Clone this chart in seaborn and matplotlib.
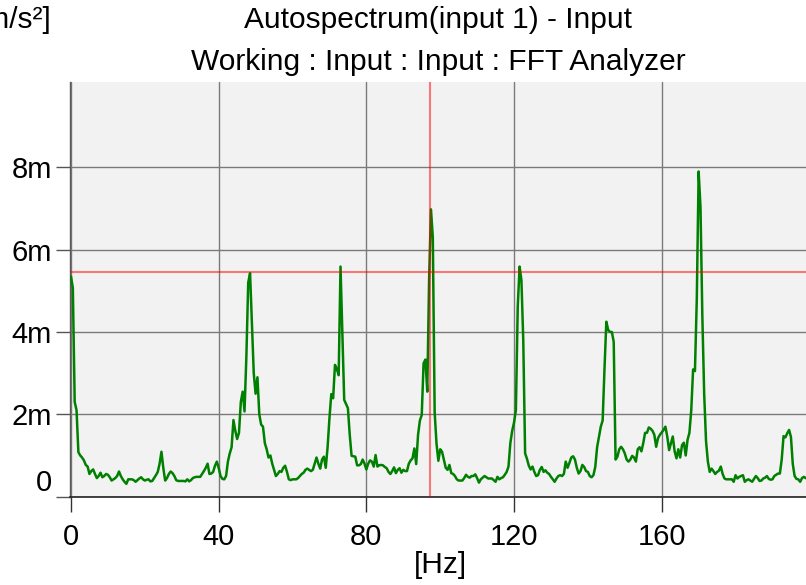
import matplotlib
matplotlib.use("Agg")
import matplotlib.pyplot as plt
import matplotlib.transforms as mtransforms
import numpy as np
import pandas as pd
import seaborn as sns

# Autospectrum of input 1, 0.5 Hz line spacing, values in milli (m/s²)
freq_step_hz = 0.5
level_0_40 = [
    5.35, 5.07, 2.3, 2.1, 1.08, 1.0, 0.95, 0.88, 0.77, 0.73, 0.55, 0.62, 0.66, 0.55, 0.45, 0.5, 0.58, 0.47, 0.5, 0.55,
    0.53, 0.47, 0.39, 0.42, 0.45, 0.5, 0.61, 0.5, 0.42, 0.36, 0.31, 0.42, 0.42, 0.42, 0.4, 0.36, 0.4, 0.44, 0.47, 0.42,
    0.39, 0.41, 0.42, 0.37, 0.38, 0.45, 0.52, 0.6, 0.8, 1.09, 0.7, 0.39, 0.45, 0.55, 0.61, 0.57, 0.5, 0.4, 0.38, 0.38,
    0.38, 0.38, 0.37, 0.42, 0.37, 0.4, 0.45, 0.47, 0.48, 0.48, 0.48, 0.55, 0.62, 0.7, 0.8, 0.55, 0.56, 0.6, 0.75, 0.85,
]
level_40_80 = [
    0.7, 0.5, 0.43, 0.42, 0.5, 0.85, 1.05, 1.2, 1.86, 1.6, 1.4, 1.55, 2.3, 2.55, 2.07, 3.4, 5.2, 5.43, 4.2, 3.0,
    2.5, 2.9, 2.0, 1.75, 1.7, 1.3, 1.15, 0.95, 1.0, 0.8, 0.65, 0.5, 0.55, 0.62, 0.6, 0.7, 0.75, 0.6, 0.42, 0.4,
    0.42, 0.42, 0.42, 0.45, 0.5, 0.55, 0.58, 0.65, 0.68, 0.65, 0.62, 0.65, 0.8, 0.95, 0.8, 0.68, 0.9, 0.97, 0.7, 1.2,
    1.9, 2.49, 2.39, 3.2, 3.1, 2.95, 5.59, 4.0, 2.35, 2.25, 2.15, 1.5, 0.99, 0.98, 0.97, 0.76, 0.76, 0.79, 0.9, 0.8,
]
level_80_120 = [
    0.66, 0.8, 0.88, 0.85, 0.73, 1.01, 0.73, 0.76, 0.77, 0.76, 0.72, 0.69, 0.6, 0.55, 0.62, 0.71, 0.57, 0.65, 0.69, 0.58,
    0.65, 0.62, 0.62, 0.8, 0.88, 0.93, 1.17, 0.79, 1.5, 1.85, 1.98, 3.24, 3.33, 2.55, 5.3, 6.98, 6.3, 2.05, 1.29, 0.87,
    1.15, 1.09, 0.9, 0.7, 0.65, 0.77, 0.57, 0.55, 0.5, 0.42, 0.39, 0.39, 0.39, 0.45, 0.53, 0.48, 0.46, 0.5, 0.5, 0.54,
    0.45, 0.34, 0.42, 0.46, 0.5, 0.47, 0.44, 0.44, 0.44, 0.4, 0.36, 0.48, 0.42, 0.45, 0.47, 0.53, 0.6, 0.73, 1.3, 1.6,
]
level_120_160 = [
    1.8, 2.1, 4.6, 5.59, 5.26, 3.8, 1.05, 0.92, 0.75, 0.66, 0.73, 0.6, 0.5, 0.52, 0.65, 0.72, 0.6, 0.64, 0.58, 0.55,
    0.48, 0.42, 0.36, 0.44, 0.5, 0.52, 0.5, 0.55, 0.85, 0.7, 0.82, 0.95, 0.98, 0.9, 0.7, 0.56, 0.62, 0.77, 0.72, 0.62,
    0.6, 0.5, 0.47, 0.52, 0.72, 1.2, 1.45, 1.7, 1.85, 3.1, 4.25, 4.05, 4.0, 4.0, 3.76, 0.9, 0.97, 1.15, 1.21, 1.15,
    1.05, 0.9, 0.85, 0.9, 0.99, 0.95, 0.85, 1.15, 1.2, 1.1, 1.3, 1.55, 1.55, 1.68, 1.65, 1.6, 1.5, 1.21, 1.42, 1.5,
]
level_160_200 = [
    1.56, 1.62, 1.7, 1.46, 1.13, 1.3, 1.46, 1.1, 0.93, 1.15, 0.95, 1.25, 1.31, 1.0, 1.38, 1.55, 2.1, 3.09, 3.05, 4.8,
    7.9, 7.04, 4.4, 2.5, 1.35, 0.85, 0.6, 0.68, 0.62, 0.55, 0.6, 0.63, 0.73, 0.55, 0.44, 0.42, 0.42, 0.42, 0.42, 0.36,
    0.52, 0.44, 0.48, 0.5, 0.52, 0.36, 0.4, 0.42, 0.39, 0.36, 0.43, 0.5, 0.45, 0.38, 0.39, 0.44, 0.46, 0.5, 0.43, 0.41,
    0.42, 0.5, 0.53, 0.56, 0.56, 0.9, 1.47, 1.44, 1.54, 1.62, 1.45, 0.79, 0.5, 0.43, 0.42, 0.36, 0.45, 0.48, 0.45, 0.44,
]

# Cursor position (frequency in Hz, level in milli m/s²)
cursor_freq = 97.2
cursor_level = 5.465

x_ticks = [0, 40, 80, 120, 160]
y_ticks = [0, 2, 4, 6, 8]
y_tick_labels = ["0", "2m", "4m", "6m", "8m"]

title_main = "Autospectrum(input 1) - Input"
title_sub = "Working : Input : Input : FFT Analyzer"
x_label = "[Hz]"
y_label = "[m/s²]"

levels = level_0_40 + level_40_80 + level_80_120 + level_120_160 + level_160_200
freqs = np.arange(len(levels)) * freq_step_hz
df = pd.DataFrame({"freq": freqs, "level": levels})

sns.set_style("white")
plt.rcParams["font.family"] = ["Liberation Sans", "DejaVu Sans"]
plt.rcParams["text.color"] = "black"

W, H = 806, 585
TXT = 21.5
TICK = 21
fig = plt.figure(figsize=(W / 100, H / 100), dpi=100)
ax = fig.add_axes([70 / W, 1 - 496.6 / H, (W - 70) / W, (496.6 - 82) / H])
ax.set_facecolor("#f2f2f2")

sns.lineplot(data=df, x="freq", y="level", color="#008000", linewidth=1.8, ax=ax, zorder=3)

ax.set_xlim(-0.27, 199.08)
ax.set_ylim(0, 10.075)

ax.set_xticks(x_ticks)
ax.set_xticklabels([str(t) for t in x_ticks])
ax.set_yticks(y_ticks)
ax.set_yticklabels(y_tick_labels)

ax.grid(True, color="#7a7a7a", linewidth=1.0, zorder=1)
ax.set_axisbelow(True)

for side in ("top", "right"):
    ax.spines[side].set_visible(False)
ax.spines["left"].set_color("#5a5a5a")
ax.spines["bottom"].set_color("#222222")
ax.spines["left"].set_linewidth(1.0)
ax.spines["bottom"].set_linewidth(1.2)

ax.tick_params(axis="x", bottom=True, direction="out", length=11, width=1, color="#333333",
               labelsize=TICK, pad=8, labelcolor="black")
ax.tick_params(axis="y", left=True, direction="out", length=10, width=1, color="#555555",
               labelsize=TICK, pad=3, labelcolor="black")

# lift the zero label clear of the frequency axis
zero_label = ax.get_yticklabels()[0]
zero_label.set_transform(zero_label.get_transform() +
                         mtransforms.ScaledTranslation(0, 17 / 100, fig.dpi_scale_trans))

# cursor crosshair
ax.axvline(cursor_freq, color="#ff0000", alpha=0.5, linewidth=1.5, zorder=4)
ax.axhline(cursor_level, color="#ff0000", alpha=0.5, linewidth=1.5, zorder=4)

ax.set_xlabel("")
ax.set_ylabel("")

cx = (70 + W) / 2 / W
fig.text(cx, 1 - 28.3 / H, title_main, ha="center", va="baseline", fontsize=TXT)
fig.text(cx, 1 - 70 / H, title_sub, ha="center", va="baseline", fontsize=TXT)
fig.text(52 / W, 1 - 28.3 / H, y_label, ha="right", va="baseline", fontsize=TXT)
fig.text(440 / W, 1 - 573 / H, x_label, ha="center", va="baseline", fontsize=TXT)

fig.savefig("out.png", dpi=100)
